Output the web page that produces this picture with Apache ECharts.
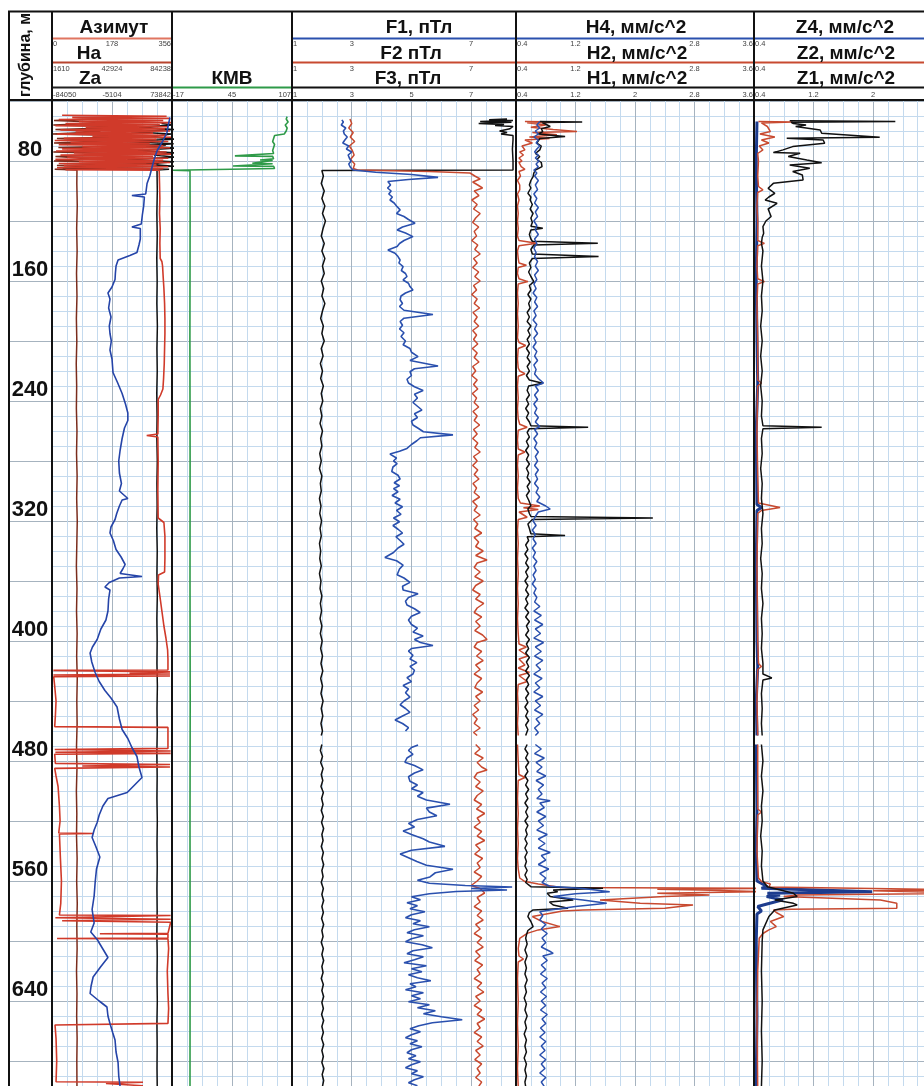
<!DOCTYPE html>
<html><head><meta charset="utf-8">
<script src="https://cdn.jsdelivr.net/npm/echarts@6/dist/echarts.min.js"></script>
<style>html,body{margin:0;padding:0;background:#fff}#c{width:924px;height:1086px}</style>
</head><body><div id="c"></div>
<script>
// ---------------- DATA (depth m, value) ----------------
const AZIMUTH = [[49.5,30],[50.2,340],[50.9,60],[51.6,350],[52.3,20],[53,330],[53.7,80],[54.4,355],[55.1,40],[55.8,320],[56.5,10],[57.2,345],[57.9,100],[58.6,335],[59.3,25],[60,350],[60.7,70],[61.4,300],[62.1,15],[62.8,340],[63.5,120],[64.2,355],[64.9,35],[65.6,310],[66.3,8],[67,345],[67.7,55],[68.4,290],[69.1,20],[69.8,330],[70.5,90],[71.2,350],[71.9,30],[72.6,320],[73.3,12],[74,340],[74.7,65],[75.4,355],[76.1,25],[76.8,300],[77.5,45],[78.2,345],[78.9,10],[79.6,330],[80.3,80],[81,350],[81.7,20],[82.4,310],[83.1,35],[83.8,345],[84.5,15],[85.2,330],[85.8,40],[86.2,318],
[95,319],[105,320],[115,319],[125,321],[135,320],[145,321],[147,326],[150,328],[158,330],[165,332],[175,334],[185,335],[195,335],[205,334],[215,333],[225,331],[232,329],[236,322],[239,315],[250,315],[262,314],[263,281],[264,314],[280,315],[300,314],[318,315],[321,332],[330,335],[345,335],[354,334],[356,316],[362,315],[370,320],[380,326],[390,332],[398,338],[406,343],[412,344],[419.3,344],[419.6,4],[420.6,350],[421.5,230],[422,350],[422.7,4],[423.3,350],[423.8,5],[430,8],[440,12],[450,10],[457.1,8],[457.6,344],[465,344],[471.6,344],[472.3,8],[473.3,352],[474.2,10],[474.9,352],[475.5,8],[481.6,10],[482.3,350],[483.3,90],[484,350],[484.9,8],[490,12],[497,18],[510,22],[520,24],[528,20],[528.3,122],[528.6,22],[545,25],[560,28],[575,26],[582.7,22],[583,352],[584,352],[584.5,10],[585.5,352],[586.5,30],[587.5,352],[588.2,350],[594.9,344],[595.2,142],[595.5,344],[598,344],[598.3,15],[598.6,344],[605,346],[620,342],[635,344],[645,346],[654.9,344],[656,9],[665,12],[680,14],[693.8,12],[694.2,270],[695,160],[696.5,270]];

const HA = [[52,30000],[53,3000],[54.5,45000],[56,2500],[57.5,60000],[59,4000],[60.5,35000],[62,2000],[63.5,70000],[65,5000],[66.5,40000],[68,3000],[69.5,80000],[71,6000],[72.5,50000],[74,2500],[75.5,65000],[77,4000],[78.5,30000],[80,3000],[81.5,75000],[83,5000],[84.5,45000],[85.5,3500],[86,18800],[95,18700],[110,19000],[125,18600],[140,18900],[155,18500],[170,18800],[185,18400],[200,18700],[215,18300],[230,18600],[245,18400],[260,18800],[275,18500],[290,18900],[305,18600],[320,19000],[335,18700],[350,18400],[365,18800],[380,18500],[395,18900],[410,18600],[425,19000],[440,18700],[455,18900],[470,18500],[485,18800],[500,18400],[515,18700],[530,18500],[545,18900],[560,18600],[575,19000],[590,18700],[605,18900],[620,18500],[635,18800],[650,18600],[665,18900],[680,18700],[697,18800]];

const ZA = [[55,60000],[56,75000],[57.5,30000],[59,78000],[60.5,20000],[62,73000],[64,45000],[65.5,79000],[67,10000],[68.5,76000],[70,35000],[71.5,79000],[73,25000],[74.5,78000],[76,50000],[77.5,79000],[79,15000],[80.5,77000],[82,40000],[83.5,78000],[84.5,-70000],[85.5,70000],[86,54100],[100,54500],[115,53900],[130,54400],[145,53800],[160,54300],[175,53900],[190,54600],[205,54000],[220,54400],[235,53800],[250,54200],[265,53900],[280,54500],[295,54000],[310,54300],[325,53800],[340,54400],[355,54000],[370,54500],[385,53900],[400,54300],[415,54000],[430,54600],[445,54100],[460,54400],[475,53900],[490,54300],[505,54000],[520,54500],[535,54100],[550,54400],[565,54000],[580,54300],[595,53900],[610,54400],[625,54100],[640,54500],[655,54000],[670,54300],[685,54100],[697,54400]];

const AZ_BLUE = [[51,350],[56,345],[61,341],[67,328],[73,312],[79,303],[84,297],[90,290],[95,282],[102,278],[103,237],[104,274],[110,272],[116,268],[122,265],[124,237],[125,262],[132,262],[136,258],[141,252],[143,231],[146,196],[150,190],[155,188],[159,187],[164,178],[168,166],[172,172],[178,168],[184,175],[190,170],[195,172],[200,176],[206,172],[212,178],[221,181],[228,195],[235,208],[242,218],[248,225],[253,225],[258,215],[265,208],[273,202],[280,198],[288,200],[295,206],[300,200],[303,215],[305,225],[306,208],[310,200],[315,192],[319,187],[324,175],[328,172],[333,182],[339,190],[344,205],[349,217],[352,210],[355,202],[357,267],[358,200],[361,170],[364,157],[366,172],[372,168],[380,166],[386,160],[392,145],[399,134],[404,120],[408,113],[414,118],[421,128],[427,140],[433,157],[438,175],[444,193],[452,200],[459,208],[465,225],[471,237],[477,252],[484,258],[491,267],[496,245],[501,223],[505,166],[510,151],[516,140],[521,134],[526,125],[531,119],[537,130],[544,142],[552,132],[561,128],[570,125],[579,119],[588,125],[594,115],[599,134],[605,150],[611,166],[617,145],[624,122],[630,116],[635,113],[640,140],[644,163],[650,166],[655,172],[661,180],[666,187],[674,190],[681,196],[690,198],[697,202]];

const KMV = [[50.4,102],[52,101],[54,103],[56,100],[58,102],[60,101],[62,99],[62.6,98],[63,89],[65,88],[67,87],[69,89],[71,88],[73,87],[75,88],[76.3,87],[76.6,48],[76.9,87],[78.5,88],[79.3,74],[79.6,87],[80.8,86],[81.5,66],[81.8,87],[82.8,88],[83.3,46],[83.6,88],[85,89],[86,91],[86.2,-16],[86.4,1.6],[120,1.7],[200,1.5],[280,1.7],[360,1.6],[440,1.8],[520,1.6],[600,1.7],[697,1.6]];

const F1 = [[52.6,2.67],[54,2.72],[56,2.65],[58,2.8],[60,2.72],[62,2.75],[64,2.85],[66,2.77],[68,2.7],[70,2.9],[72,2.82],[74,3.0],[76,2.88],[78,2.92],[80,2.98],[82,2.9],[84,2.95],[86,3.04],[87.5,3.8],[89,5.0],[90.9,5.89],[92.3,4.9],[93.7,4.21],[96,4.3],[98,4.2],[100,4.32],[102,4.24],[104,4.36],[106,4.28],[108,4.42],[110,4.5],[112.6,4.62],[115,4.5],[117,4.75],[119,4.9],[121.5,5.12],[124,4.7],[126,4.52],[128,4.8],[130.4,5.05],[133,4.75],[135,4.6],[137,4.52],[139.3,4.21],[141.5,4.45],[143.7,4.55],[146,4.62],[148,4.58],[150.4,4.72],[153,4.66],[155,4.8],[157,4.85],[159.3,4.72],[161.5,4.9],[163.7,4.95],[166,5.05],[168,4.8],[170,4.65],[172.5,4.62],[175,4.7],[177,4.6],[179.5,4.75],[182.3,5.72],[184.8,4.75],[187,4.62],[189.5,4.7],[192,4.6],[194.5,4.75],[197,4.65],[200,4.8],[202.5,4.72],[205,4.95],[207.5,5.0],[210.4,5.22],[213,4.95],[216.7,5.89],[218.5,5.1],[220.5,4.95],[223,5.0],[225.5,4.85],[228,4.9],[230.5,5.1],[233,5.39],[235.5,5.1],[238,5.2],[241,5.05],[243.5,5.2],[246,5.35],[248.5,5.1],[251,5.2],[253.5,5.0],[256,5.05],[258.5,5.25],[260.5,5.4],[262.6,6.39],[264.5,5.3],[266.5,5.18],[269,5.0],[271.6,4.85],[273.5,4.6],[275.4,4.28],[278,4.5],[280,4.4],[281.8,4.52],[284,4.38],[287,4.34],[289.5,4.55],[292,4.62],[294.5,4.42],[296.5,4.6],[298.4,4.4],[300.5,4.55],[303,4.35],[305.5,4.62],[308,4.45],[310.5,4.7],[313,4.5],[315.5,4.65],[318,4.4],[320.5,4.6],[323,4.38],[325.5,4.55],[328,4.7],[330.5,4.48],[333,4.62],[335.5,4.75],[338,4.55],[341,4.4],[344.3,4.11],[346.5,4.5],[349.4,4.72],[352,4.6],[355.8,4.52],[358,4.75],[360.9,4.95],[363.5,4.7],[366,4.72],[368.5,5.22],[371,4.9],[373.5,4.8],[376,4.85],[378.5,5.1],[381,5.29],[383.5,5.0],[386,4.9],[389,5.0],[391.5,5.2],[394,5.05],[396.6,5.39],[399,5.1],[401,5.3],[403,5.72],[405,5.0],[406.8,4.9],[409.5,5.05],[412,4.95],[414.4,5.18],[417,4.95],[419.5,5.1],[422,5.05],[424.5,4.85],[427,5.0],[429.7,4.72],[432,4.9],[434.5,4.8],[437.4,4.95],[440,4.75],[442.5,4.62],[445,4.8],[447.6,4.95],[450,4.7],[452.7,4.45],[455,4.7],[457.8,4.9],[460,4.8],[464,null],[469.3,5.22],[471,5.0],[473,4.9],[475.5,5.05],[478,4.85],[480.8,4.78],[483,5.1],[485.9,5.39],[488,5.1],[490.5,4.9],[493.5,4.95],[496,5.2],[498.5,5.0],[501,5.39],[503.5,5.2],[506,5.5],[508.8,6.29],[511.4,5.5],[514,5.6],[516.5,5.85],[519,5.2],[521.6,4.9],[524,5.1],[526.7,4.72],[529,5.0],[531.8,5.39],[534,5.6],[536.9,6.12],[539.5,5.0],[542,4.62],[544.5,4.9],[547,5.18],[549.5,5.5],[552.2,6.39],[554.5,5.8],[557.3,5.62],[559.5,5.2],[561.5,5.6],[563,6.8],[564,8.37],[565,7.0],[566,8.2],[567,6.5],[568.5,5.6],[570.5,5.0],[572.5,5.3],[574.5,4.85],[576.5,5.2],[578.5,4.95],[580.5,5.45],[582.5,5.0],[584.5,4.8],[586.5,5.3],[588.5,5.05],[590.5,5.6],[592.5,5.1],[594.5,4.85],[596.5,5.4],[598.5,5.0],[600.5,4.8],[602.5,5.35],[604.5,5.7],[606.5,5.05],[608.5,4.85],[610.5,5.4],[612.5,5.1],[614.5,4.75],[616.5,5.5],[618.5,5.0],[620.5,5.35],[622.5,4.9],[624.5,5.2],[626.5,5.65],[628.5,4.95],[630.5,5.15],[632.5,4.8],[634.5,5.4],[636.5,5.0],[638.5,5.3],[640.5,4.9],[642.5,5.6],[644.5,5.2],[646.5,5.8],[648.5,5.4],[650.5,6.0],[652.5,6.7],[654.5,5.7],[656.5,5.25],[658.5,4.95],[660.5,5.3],[662.5,5.0],[664.5,4.8],[666.5,5.2],[668.5,4.95],[670.5,5.35],[672.5,5.0],[674.5,4.85],[676.5,5.15],[678.5,4.9],[680.5,5.3],[682.5,5.0],[684.5,4.8],[686.5,5.2],[688.5,5.0],[690.5,5.4],[692.5,5.1],[694.5,4.9],[696.5,5.2]];

const F2 = [[52,2.94],[55,3.0],[58,2.9],[61,3.05],[64,2.95],[67,3.1],[70,2.92],[73,3.02],[76,3.08],[79,2.96],[82,3.1],[85,3.05],[86,3.2],[87,5.6],[88,6.96],[90,7.12],[92,7.3],[94,7.05],[96,7.22],[98,7.38],[100,7.1],[103,7.26],[106,7.02],[109,7.2],[112,7.08],[115,7.3],[118,7.15],[121,7.05],[124,7.25],[127,7.1],[130,7.18],[133,7.02],[136,7.22],[139,7.12],[142,7.3],[145,7.08],[148,7.2],[151,7.05],[154,7.25],[157,7.12],[160,7.3],[163,7.08],[166,7.18],[169,7.02],[172,7.2],[175,7.1],[178,7.28],[181,7.06],[184,7.2],[187,7.1],[190,7.25],[193,7.05],[196,7.18],[199,7.08],[202,7.22],[205,7.04],[208,7.2],[211,7.1],[214,7.26],[217,7.05],[220,7.15],[223,7.02],[226,7.2],[229,7.08],[232,7.22],[235,7.04],[238,7.18],[241,7.1],[244,7.25],[247,7.06],[250,7.2],[253,7.1],[256,7.28],[259,7.08],[262,7.2],[265,7.05],[268,7.22],[271,7.12],[274,7.3],[277,7.08],[280,7.2],[283,7.05],[286,7.22],[289,7.1],[292,7.26],[295,7.06],[298,7.18],[301,7.1],[304,7.28],[307,7.05],[310,7.2],[313,7.1],[316,7.3],[319,7.08],[322,7.22],[325,7.12],[328,7.35],[331,7.1],[334,7.25],[337,7.15],[340,7.4],[343,7.15],[346,7.53],[348,7.2],[351,7.1],[354,7.3],[357,7.12],[360,7.4],[363,7.15],[366,7.05],[369,7.3],[372,7.15],[375,7.42],[378,7.2],[381,7.1],[384,7.35],[387,7.15],[390,7.3],[393,7.12],[396,7.38],[399,7.53],[401,7.2],[404,7.1],[407,7.35],[410,7.18],[413,7.4],[416,7.15],[419,7.3],[422,7.1],[425,7.35],[428,7.2],[431,7.12],[434,7.38],[437,7.15],[440,7.3],[443,7.1],[446,7.25],[449,7.05],[452,7.2],[455,7.1],[458,7.3],[461,7.08],[463,7.2],[466,null],[469,7.15],[472,7.3],[475,7.12],[478,7.4],[481,7.2],[484,7.35],[486,7.53],[488,7.2],[491,7.1],[494,7.3],[497,7.15],[500,7.4],[503,7.2],[506,7.1],[509,7.35],[512,7.18],[515,7.45],[518,7.2],[521,7.3],[524,7.1],[527,7.35],[530,7.2],[533,7.45],[536,7.15],[539,7.3],[542,7.12],[545,7.38],[548,7.2],[551,7.3],[554,7.1],[557,7.35],[560,7.2],[563,7.0],[565,7.3],[568,7.45],[571,7.2],[574,7.3],[577,7.1],[580,7.35],[583,7.2],[586,7.4],[589,7.15],[592,7.3],[595,7.1],[598,7.35],[601,7.2],[604,7.4],[607,7.15],[610,7.3],[613,7.12],[616,7.38],[619,7.2],[622,7.3],[625,7.1],[628,7.35],[631,7.2],[634,7.42],[637,7.15],[640,7.3],[643,7.1],[646,7.35],[649,7.2],[652,7.45],[655,7.2],[658,7.3],[661,7.1],[664,7.35],[667,7.2],[670,7.4],[673,7.15],[676,7.3],[679,7.12],[682,7.35],[685,7.2],[688,7.3],[691,7.15],[694,7.35],[697,7.25]];

const F3 = [[52,8.2],[52.5,7.6],[53,8.4],[53.6,7.3],[54.2,8.35],[55,7.25],[55.6,8.1],[56.3,7.8],[57,8.4],[58.5,8.3],[60,7.95],[61,8.2],[62,8.0],[63,8.4],[66,8.4],[72,8.38],[80,8.4],[86,8.4],[86.3,2.0],[90,2.05],[95,1.98],[100,2.08],[105,2.0],[110,2.1],[115,2.02],[120,2.12],[125,2.04],[130,1.98],[135,2.08],[140,2.0],[145,2.1],[150,2.02],[155,2.08],[160,1.98],[165,2.06],[170,2.0],[175,2.1],[180,2.02],[185,1.96],[190,2.05],[195,2.0],[200,2.08],[205,1.98],[210,2.04],[215,1.95],[220,2.02],[225,1.96],[230,2.05],[235,1.98],[240,2.03],[245,1.95],[250,2.0],[255,1.94],[260,2.02],[265,1.96],[270,2.0],[275,1.93],[280,1.98],[285,1.92],[290,2.0],[295,1.95],[300,1.98],[305,1.92],[310,1.97],[315,1.93],[320,1.99],[325,1.94],[330,1.98],[335,1.92],[340,1.96],[345,1.93],[350,1.98],[355,1.92],[360,1.97],[365,1.94],[370,2.0],[375,1.95],[380,1.99],[385,1.94],[390,2.0],[395,1.95],[400,2.01],[405,1.96],[410,2.02],[415,1.97],[420,2.03],[425,1.96],[430,2.02],[435,1.97],[440,2.04],[445,1.98],[450,2.03],[455,1.97],[460,2.02],[463,1.98],[466,null],[469,2.0],[473,1.95],[477,2.02],[481,1.96],[485,2.04],[489,1.98],[493,2.03],[497,1.97],[501,2.05],[505,1.99],[509,2.04],[513,1.98],[517,2.05],[521,1.99],[525,2.06],[529,2.0],[533,2.04],[537,1.98],[541,2.05],[545,2.0],[549,2.06],[553,2.0],[557,2.04],[561,1.98],[565,2.05],[569,2.0],[573,2.06],[577,2.0],[581,2.05],[585,1.99],[589,2.06],[593,2.0],[597,2.04],[601,1.98],[605,2.05],[609,2.0],[613,2.06],[617,2.0],[621,2.04],[625,1.98],[629,2.05],[633,2.0],[637,2.06],[641,2.0],[645,2.05],[649,1.99],[653,2.06],[657,2.0],[661,2.05],[665,1.99],[669,2.06],[673,2.0],[677,2.05],[681,2.0],[685,2.07],[689,2.01],[693,2.06],[697,2.02]];

const H4 = [[53.7,0.72],[56,0.68],[58,0.72],[60,0.66],[62,0.7],[64,0.64],[66,0.7],[68,0.67],[70,0.72],[72,0.68],[74,0.65],[76,0.7],[78,0.66],[80,0.71],[82,0.67],[84,0.7],[86,0.64],[88,0.68],[90,0.65],[93,0.7],[96,0.66],[99,0.69],[102,0.64],[105,0.68],[108,0.65],[111,0.7],[114,0.66],[117,0.69],[120,0.64],[123,0.68],[126,0.66],[129,0.7],[132,0.65],[135,0.68],[138,0.64],[141,0.67],[144,0.65],[147,0.69],[150,0.66],[153,0.7],[156,0.65],[159,0.68],[162,0.64],[165,0.67],[168,0.63],[171,0.68],[174,0.65],[177,0.69],[180,0.64],[183,0.67],[186,0.63],[189,0.68],[192,0.65],[195,0.69],[198,0.64],[201,0.67],[204,0.63],[207,0.68],[210,0.65],[213,0.69],[216,0.64],[219,0.67],[222,0.65],[225,0.7],[228,0.77],[230,0.66],[233,0.7],[236,0.65],[239,0.69],[242,0.64],[245,0.68],[248,0.65],[251,0.7],[254,0.66],[257,0.72],[259,0.65],[262,0.69],[265,0.64],[268,0.68],[271,0.65],[274,0.7],[277,0.66],[280,0.69],[283,0.65],[286,0.7],[289,0.66],[292,0.69],[295,0.65],[298,0.7],[301,0.67],[304,0.72],[307,0.68],[310,0.8],[312,0.86],[314,0.7],[317,0.66],[320,0.63],[323,0.67],[326,0.62],[329,0.66],[332,0.63],[335,0.67],[338,0.62],[341,0.66],[344,0.63],[347,0.68],[350,0.64],[353,0.67],[356,0.63],[359,0.66],[362,0.62],[365,0.67],[368,0.64],[371,0.68],[374,0.65],[377,0.72],[380,0.64],[383,0.74],[386,0.65],[389,0.76],[392,0.66],[395,0.73],[398,0.64],[401,0.77],[404,0.66],[407,0.74],[410,0.65],[413,0.76],[416,0.67],[419,0.73],[422,0.64],[425,0.75],[428,0.66],[431,0.72],[434,0.64],[437,0.76],[440,0.66],[443,0.73],[446,0.65],[449,0.76],[452,0.67],[455,0.72],[458,0.65],[461,0.7],[463,0.66],[466,null],[469,0.66],[472,0.74],[475,0.65],[478,0.78],[481,0.67],[484,0.75],[487,0.68],[490,0.8],[493,0.67],[496,0.77],[499,0.7],[502,0.75],[505,0.68],[506.5,0.86],[508,0.72],[511,0.78],[514,0.68],[517,0.8],[520,0.7],[523,0.77],[526,0.68],[529,0.82],[532,0.7],[535,0.79],[538,0.7],[541,0.86],[543,0.74],[546,0.8],[549,0.7],[552,0.84],[555,0.72],[558,0.8],[561,0.75],[563.5,0.85],[565,1.3],[567.1,1.66],[568.5,1.2],[570.4,0.9],[572.6,1.3],[574.9,1.62],[577,1.2],[579.3,0.86],[580.5,0.72],[583,0.76],[586,0.72],[589,0.8],[592,0.74],[595,0.82],[598,0.75],[601,0.8],[604,0.74],[607,0.86],[608.2,0.9],[610,0.76],[613,0.82],[616,0.74],[619,0.8],[622,0.73],[625,0.82],[628,0.75],[631,0.8],[634,0.73],[637,0.81],[640,0.74],[643,0.8],[646,0.73],[649,0.82],[652,0.75],[655,0.8],[658,0.73],[661,0.79],[664,0.72],[667,0.8],[670,0.74],[673,0.79],[676,0.72],[679,0.8],[682,0.74],[685,0.79],[688,0.72],[691,0.8],[694,0.74],[697,0.78]];

const H1 = [[53.7,0.72],[54,1.29],[54.4,0.75],[55.5,0.8],[57,0.86],[58.5,0.74],[60.4,0.76],[62,0.7],[63.7,1.06],[65,0.72],[68,0.68],[70,0.74],[72.6,0.72],[75,0.66],[77,0.72],[79,0.68],[81,0.74],[83.7,0.75],[86,0.66],[88,0.64],[90.4,0.63],[93,0.6],[96,0.58],[98,0.6],[101.5,0.56],[104,0.6],[106,0.59],[109,0.62],[112,0.59],[115,0.63],[118,0.6],[121,0.62],[123.5,0.6],[124.8,0.76],[126,0.6],[129,0.58],[132,0.6],[133.5,0.62],[134.9,1.5],[136,0.64],[139,0.6],[142,0.62],[143.7,1.51],[145,0.62],[148,0.58],[151,0.6],[154,0.57],[157,0.6],[160.4,0.64],[163,0.58],[166,0.6],[169,0.56],[172,0.6],[175,0.57],[178,0.59],[181,0.55],[184,0.58],[187,0.55],[190,0.6],[193,0.56],[196,0.59],[199,0.55],[202,0.58],[205,0.54],[208,0.58],[211,0.55],[214,0.59],[217,0.55],[220,0.58],[223,0.54],[226,0.58],[228.2,0.76],[230,0.57],[233,0.55],[236,0.58],[239,0.54],[242,0.57],[245,0.53],[248,0.57],[251,0.54],[254,0.58],[256.5,0.6],[257.5,1.37],[258.5,0.58],[261,0.55],[264,0.58],[267,0.54],[270,0.57],[273,0.53],[276,0.57],[279,0.54],[282,0.58],[285,0.54],[288,0.57],[291,0.55],[294,0.59],[297,0.55],[300,0.58],[303,0.54],[306,0.57],[309.8,0.6],[312,0.56],[315,0.58],[317,0.6],[318,2.24],[319,0.62],[322,0.56],[325,0.58],[328.5,0.6],[329.7,1.06],[330.5,0.55],[333,0.57],[336,0.53],[339,0.56],[342,0.52],[345,0.56],[348,0.53],[351,0.57],[354,0.53],[357,0.56],[360,0.52],[363,0.56],[366,0.53],[369,0.57],[372,0.53],[375,0.56],[378,0.52],[381,0.57],[384,0.53],[387,0.58],[390,0.54],[393,0.57],[396,0.53],[399,0.58],[402,0.54],[405,0.57],[408,0.53],[411,0.58],[414,0.54],[417,0.57],[420,0.53],[423,0.58],[426,0.54],[429,0.57],[432,0.53],[435,0.57],[438,0.53],[441,0.56],[444,0.52],[447,0.56],[450,0.53],[453,0.57],[456,0.53],[459,0.56],[463,0.53],[466,null],[469,0.55],[472,0.52],[475,0.56],[478,0.53],[481,0.57],[484,0.53],[487,0.56],[490,0.52],[493,0.56],[496,0.53],[499,0.57],[502,0.53],[505,0.56],[508,0.52],[511,0.56],[514,0.53],[517,0.56],[520,0.52],[523,0.56],[526,0.53],[529,0.55],[532,0.52],[535,0.55],[538,0.52],[541,0.55],[544,0.52],[547,0.54],[550,0.52],[553,0.55],[556,0.52],[559,0.55],[561,0.53],[563.8,0.6],[564.9,1.57],[566,0.9],[567.1,0.96],[568.2,0.82],[570.4,0.86],[572.6,1.17],[574,0.85],[576,0.9],[578.2,1.1],[579.3,0.63],[581,0.58],[583.7,0.56],[587,0.6],[590.4,0.63],[593,0.56],[596,0.54],[598.2,0.53],[602,0.55],[606,0.52],[610,0.55],[614,0.52],[618,0.54],[622,0.52],[626,0.55],[630,0.52],[634,0.54],[638,0.51],[642,0.54],[646,0.52],[650,0.55],[654,0.52],[658,0.54],[662,0.51],[666,0.54],[670,0.52],[674,0.54],[678,0.51],[682,0.54],[686,0.52],[690,0.54],[694,0.52],[697,0.53]];

const H2 = [[53.7,0.52],[54,1.05],[54.5,0.55],[56,0.8],[57.5,0.6],[59,0.9],[60.4,1.22],[61,0.62],[62.5,0.95],[64,0.58],[65,0.85],[66,0.52],[68,0.62],[70,0.48],[72.6,0.52],[74,0.45],[76,0.5],[78,0.44],[80,0.48],[81,0.44],[83.7,0.47],[85.5,0.52],[87,0.44],[90,0.46],[93,0.42],[96,0.45],[99.3,0.45],[102,0.42],[106,0.44],[110,0.42],[115,0.43],[120,0.42],[125,0.43],[130,0.42],[133,0.44],[134.9,0.68],[136.5,0.44],[140,0.42],[145,0.43],[148,0.44],[149.5,0.54],[151,0.43],[155,0.42],[158.5,0.44],[160.4,0.56],[162,0.43],[168,0.42],[175,0.43],[182,0.42],[190,0.43],[198,0.42],[201,0.44],[203,0.53],[205,0.43],[212,0.42],[218,0.43],[220,0.45],[221.8,0.52],[223.5,0.43],[230,0.42],[238,0.43],[245,0.42],[252,0.43],[255.5,0.45],[257.5,0.55],[259.5,0.43],[266,0.42],[272,0.43],[274,0.52],[276,0.43],[283,0.42],[290,0.43],[298,0.42],[305,0.43],[308,0.46],[310,0.72],[311.2,0.5],[312.4,0.7],[314,0.44],[317.5,0.55],[319,0.43],[326,0.42],[335,0.43],[345,0.42],[355,0.43],[365,0.42],[375,0.43],[385,0.42],[395,0.43],[402,0.44],[404,0.54],[406,0.44],[410,0.56],[412,0.44],[416,0.52],[418,0.43],[421,0.58],[423,0.44],[427,0.55],[429,0.43],[435,0.42],[445,0.43],[455,0.42],[463,0.43],[466,null],[469,0.42],[480,0.43],[489,0.44],[491,0.52],[493,0.43],[505,0.42],[515,0.43],[525,0.42],[535,0.43],[545,0.42],[552,0.43],[558,0.45],[560.4,0.52],[562,0.7],[564.4,1.0],[564.9,3.7],[565.5,2.3],[566,2.9],[567.1,3.7],[568.2,2.3],[569.3,3.0],[570.4,2.4],[572.6,1.53],[574.9,2.07],[576,2.78],[578.2,2.4],[579.3,1.3],[580,1.03],[583.7,0.62],[587,0.75],[590.4,0.99],[592.6,0.7],[594.9,0.55],[598.2,0.45],[605,0.43],[610,0.44],[612,0.5],[614,0.43],[625,0.42],[640,0.43],[655,0.42],[670,0.43],[685,0.42],[697,0.43]];

const Z4 = [[53.7,0.44],[80,0.43],[120,0.44],[160,0.43],[200,0.44],[228,0.45],[260,0.43],[309,0.44],[311,0.5],[313,0.44],[350,0.43],[400,0.44],[417,0.45],[440,0.43],[463,0.44],[466,null],[469,0.43],[514,0.44],[540,0.43],[560,0.44],[563.8,0.58],[564.9,0.5],[567.1,1.99],[568.2,0.58],[569.3,0.75],[570.4,0.57],[572.6,0.79],[575,0.6],[577,0.45],[580,0.5],[582,0.44],[600,0.43],[650,0.44],[697,0.43]];

const Z2 = [[53.7,0.46],[54,0.92],[54.6,0.5],[57,0.58],[60.4,0.62],[62,0.48],[64,0.68],[66,0.5],[68,0.6],[70,0.47],[72.6,0.52],[75,0.45],[80,0.46],[90,0.45],[97,0.46],[99.3,0.52],[101,0.45],[110,0.44],[120,0.45],[133,0.45],[134.9,0.54],[136.5,0.45],[150,0.44],[158.5,0.45],[160.4,0.54],[162,0.45],[175,0.44],[200,0.45],[226,0.45],[228,0.5],[230,0.45],[260,0.44],[290,0.45],[308,0.46],[311,0.75],[313,0.5],[315,0.45],[350,0.44],[400,0.45],[415,0.46],[417,0.5],[419,0.45],[440,0.44],[463,0.45],[466,null],[469,0.45],[512,0.45],[514,0.5],[516,0.45],[540,0.44],[558,0.46],[560.4,0.5],[562,0.62],[564,0.6],[566,3.3],[566.5,2.0],[567.1,2.0],[568.2,3.3],[569.3,1.0],[570.4,0.8],[572.6,2.1],[574.9,2.32],[578.2,2.32],[578.8,0.9],[579.3,0.66],[581,0.7],[583.7,0.8],[587,0.62],[590.4,0.7],[592.6,0.6],[595,0.52],[598.2,0.47],[620,0.45],[650,0.44],[697,0.45]];

const Z1 = [[53.2,0.88],[53.7,2.3],[54.2,0.9],[55,0.93],[56,1.1],[57,0.96],[59.3,1.29],[61.5,1.31],[64.2,2.09],[64.8,0.84],[66,1.33],[68.2,1.35],[70.4,0.92],[72.6,0.79],[74.4,0.66],[74.8,1.02],[77,0.86],[79.3,1.11],[81.1,1.31],[82.6,0.88],[84.9,1.15],[87,0.92],[89.3,1.05],[92.6,1.06],[94.9,0.66],[98.2,0.59],[101.5,0.68],[104,0.6],[106,0.55],[108.2,0.71],[112,0.59],[117,0.63],[120,0.56],[123.7,0.52],[128.2,0.53],[131,0.51],[134.9,0.5],[140,0.52],[150,0.5],[160,0.52],[170,0.5],[180,0.51],[190,0.49],[200,0.51],[210,0.49],[220,0.51],[230,0.49],[240,0.51],[250,0.5],[256.5,0.52],[257.5,1.31],[258.5,0.52],[265,0.5],[275,0.51],[285,0.49],[295,0.51],[305,0.5],[315,0.52],[325,0.5],[335,0.51],[345,0.49],[355,0.51],[365,0.5],[375,0.52],[385,0.5],[395,0.51],[405,0.5],[415,0.52],[422,0.52],[424.6,0.64],[426,0.52],[435,0.5],[445,0.51],[455,0.5],[463,0.51],[466,null],[469,0.5],[480,0.52],[490,0.5],[500,0.52],[510,0.5],[520,0.51],[530,0.49],[540,0.51],[550,0.5],[560,0.52],[563.8,0.58],[568.2,0.93],[570.4,0.98],[572.6,0.68],[574.9,0.93],[576,0.98],[579.3,0.68],[583.7,0.6],[592.6,0.52],[600,0.51],[620,0.5],[640,0.51],[660,0.5],[680,0.51],[697,0.5]];

// scales (min, max) and header tick labels
const SCALE_AZ = [0, 356], SCALE_HA = [1610, 84238], SCALE_ZA = [-84050, 73842];
const SCALE_KMV = [-17, 107], SCALE_F = [1, 8.5], SCALE_H = [0.4, 3.6];
const SCALE_Z = [0.4, 0.4 + 170 * 3.2 / 238];
const LBL_AZ = [0, 178, 356], LBL_HA = [1610, 42924, 84238], LBL_ZA = [-84050, -5104, 73842];
const LBL_KMV = [-17, 45, 107];
const LBL_F1 = [1, 3, 7], LBL_F2 = [1, 3, 7], LBL_F3 = [1, 3, 5, 7];
const LBL_H4 = [0.4, 1.2, 2.8, 3.6], LBL_H2 = [0.4, 1.2, 2.8, 3.6], LBL_H1 = [0.4, 1.2, 2, 2.8, 3.6];
const LBL_Z4 = [0.4, 2.8], LBL_Z2 = [0.4, 2.8], LBL_Z1 = [0.4, 1.2, 2, 2.8];
const DEPTH_LABEL_STEP = 80;

// ---------------- LAYOUT ----------------
const FONT = '"Liberation Sans", Arial, sans-serif';
const MINOR = '#c4daee', MAJOR = '#a6b3bf';
const GRID_TOP = 101, GRID_H = 985;
const DEPTH_MIN = 40, DEPTH_MAX = 40 + GRID_H / 1.5;
const TR = {
  depth: {left: 9, width: 43},
  az: {left: 52, width: 120},
  kmv: {left: 172, width: 120},
  f: {left: 292, width: 224},
  h: {left: 516, width: 238},
  z: {left: 754, width: 170}
};
const GRID_ORDER = ['depth', 'az', 'kmv', 'f', 'h', 'z'];
const C_BLUE = '#2a50ae', C_RED = '#c84a30', C_BLACK = '#111', C_GREEN = '#2e9a48';

const grids = GRID_ORDER.map(k => ({left: TR[k].left, top: GRID_TOP, width: TR[k].width, height: GRID_H, containLabel: false, outerBoundsMode: 'none', show: false}));

function xAx(gi, scale, interval, split) {
  return {gridIndex: gi, type: 'value', min: scale[0], max: scale[1], interval: interval, show: split,
    axisLine: {show: false}, axisTick: {show: false}, axisLabel: {show: false},
    splitLine: {show: split, lineStyle: {color: [MAJOR, MINOR, MINOR, MINOR], width: 1}}};
}
const xAxes = [
  {gridIndex: 0, type: 'value', min: 0, max: 1, show: false},
  xAx(1, SCALE_AZ, 44.5, true),   // 1 azimuth
  xAx(1, SCALE_HA, null, false),  // 2 Ha
  xAx(1, SCALE_ZA, null, false),  // 3 Za
  xAx(2, SCALE_KMV, 15.5, true),  // 4 KMV
  xAx(3, SCALE_F, 0.5, true),     // 5 F
  xAx(4, SCALE_H, 0.2, true),     // 6 H
  xAx(5, SCALE_Z, 0.2, true)      // 7 Z
];
xAxes[2].show = false; xAxes[3].show = false;
delete xAxes[2].interval; delete xAxes[3].interval;

const yAxes = [{
  gridIndex: 0, type: 'value', inverse: true, min: DEPTH_MIN, max: DEPTH_MAX, interval: 40,
  axisLine: {show: false}, axisTick: {show: false},
  axisLabel: {show: true, inside: true, margin: 21, align: 'center', verticalAlign: 'bottom',
    fontSize: 22, fontWeight: 'bold', color: '#111', fontFamily: FONT,
    formatter: v => (Math.abs(v % DEPTH_LABEL_STEP) < 1e-6 && v > DEPTH_MIN) ? String(Math.round(v)) : ''},
  splitLine: {show: true, lineStyle: {color: MAJOR, width: 1}}
}];
for (let i = 1; i < GRID_ORDER.length; i++) {
  yAxes.push({gridIndex: i, type: 'value', inverse: true, min: DEPTH_MIN, max: DEPTH_MAX, interval: 10,
    axisLine: {show: false}, axisTick: {show: false}, axisLabel: {show: false},
    splitLine: {show: true, lineStyle: {color: [MAJOR, MINOR, MINOR, MINOR], width: 1}}});
}

function curve(arr, xi, yi, color, width) {
  return {type: 'line', xAxisIndex: xi, yAxisIndex: yi, symbol: 'none', showSymbol: false, silent: true,
    animation: false, connectNulls: false, clip: true,
    lineStyle: {color: color, width: width || 1.5},
    data: arr.map(p => [p[1] == null ? '-' : p[1], p[0]])};
}
const series = [
  curve(HA, 2, 1, '#7a2c1c', 1.5),
  curve(ZA, 3, 1, C_BLACK, 1.5),
  curve(AZIMUTH, 1, 1, '#d03a2a', 1.6),
  curve(AZ_BLUE, 1, 1, '#2544a8', 1.6),
  curve(KMV, 4, 2, C_GREEN, 1.6),
  curve(F3, 5, 3, C_BLACK, 1.5),
  curve(F2, 5, 3, C_RED, 1.5),
  curve(F1, 5, 3, C_BLUE, 1.6),
  curve(H2, 6, 4, C_RED, 1.5),
  curve(H1, 6, 4, C_BLACK, 1.5),
  curve(H4, 6, 4, C_BLUE, 1.5),
  curve(Z4, 7, 5, '#1d3c8e', 3),
  curve(Z2, 7, 5, C_RED, 1.5),
  curve(Z1, 7, 5, C_BLACK, 1.5)
];

// ---------------- HEADER ----------------
const G = [];
function hline(x1, x2, y, color, w) { G.push({type: 'line', z: 100, silent: true, shape: {x1: x1, y1: y, x2: x2, y2: y}, style: {stroke: color, lineWidth: w}}); }
function vline(x, y1, y2, color, w) { G.push({type: 'line', z: 100, silent: true, shape: {x1: x, y1: y1, x2: x, y2: y2}, style: {stroke: color, lineWidth: w}}); }
function text(str, x, y, size, bold, align, color, rot) {
  G.push({type: 'text', z: 101, silent: true, x: x, y: y, rotation: rot || 0,
    style: {text: str, fill: color || '#111', fontSize: size, fontWeight: bold ? 'bold' : 'normal', fontFamily: FONT, align: align || 'center', verticalAlign: 'middle'}});
}
function scaleLabels(track, scale, vals, y) {
  const t = TR[track];
  const full = track === 'z' ? [0.4, 3.6] : scale;
  const w = track === 'z' ? 238 : t.width;
  vals.forEach(v => {
    const x = t.left + (v - full[0]) / (full[1] - full[0]) * w;
    let align = 'center', xx = x;
    if (Math.abs(v - full[0]) < 1e-9) { align = 'left'; xx = x + 1; }
    else if (Math.abs(v - full[1]) < 1e-9) { align = 'right'; xx = x - 1; }
    text(String(v), xx, y, 7.5, false, align, '#444');
  });
}
const ROW_TITLE = [27.5, 53.5, 78.5], ROW_LINE = [38.5, 62.5, 87.5], ROW_SCALE = [44, 69, 94.5];
function block(track, row, title, tx, color, scale, vals) {
  const t = TR[track];
  text(title, tx, ROW_TITLE[row], 19, true, 'center', '#111');
  hline(t.left, t.left + t.width, ROW_LINE[row], color, 2);
  scaleLabels(track, scale, vals, ROW_SCALE[row]);
}
block('az', 0, 'Азимут', 114, '#e07560', SCALE_AZ, LBL_AZ);
block('az', 1, 'Ha', 89, '#b8442e', SCALE_HA, LBL_HA);
block('az', 2, 'Za', 90, '#222', SCALE_ZA, LBL_ZA);
block('kmv', 2, 'КМВ', 232, C_GREEN, SCALE_KMV, LBL_KMV);
block('f', 0, 'F1, пТл', 419, C_BLUE, SCALE_F, LBL_F1);
block('f', 1, 'F2 пТл', 411, C_RED, SCALE_F, LBL_F2);
block('f', 2, 'F3, пТл', 408, C_BLACK, SCALE_F, LBL_F3);
block('h', 0, 'H4, мм/с^2', 636, C_BLUE, SCALE_H, LBL_H4);
block('h', 1, 'H2, мм/с^2', 637, C_RED, SCALE_H, LBL_H2);
block('h', 2, 'H1, мм/с^2', 637, C_BLACK, SCALE_H, LBL_H1);
block('z', 0, 'Z4, мм/с^2', 845, C_BLUE, SCALE_Z, LBL_Z4);
block('z', 1, 'Z2, мм/с^2', 846, C_RED, SCALE_Z, LBL_Z2);
block('z', 2, 'Z1, мм/с^2', 846, C_BLACK, SCALE_Z, LBL_Z1);
text('глубина, м', 26, 55, 16, true, 'center', '#111', Math.PI / 2);
// frame
hline(8, 924, 11.5, '#111', 2);
hline(8, 924, 100, '#111', 2);
[9, 52, 172, 292, 516, 754].forEach(x => vline(x, 11, 1086, '#111', 2));

const chart = echarts.init(document.getElementById('c'), null, {renderer: 'canvas'});
chart.setOption({
  animation: false, backgroundColor: '#ffffff',
  grid: grids, xAxis: xAxes, yAxis: yAxes, series: series,
  graphic: {elements: G}
});
</script></body></html>
